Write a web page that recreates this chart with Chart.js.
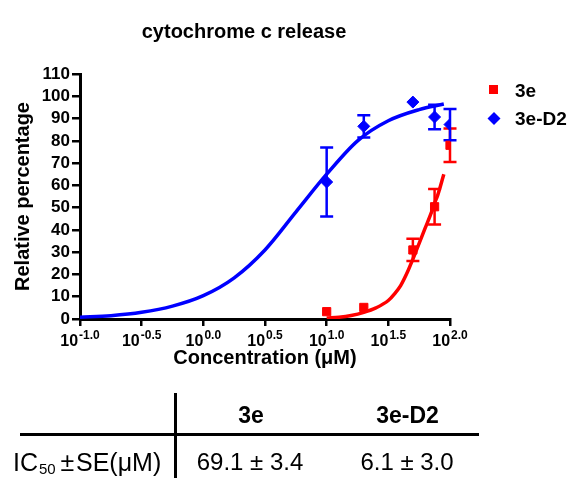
<!DOCTYPE html>
<html>
<head>
<meta charset="utf-8">
<script src="https://cdn.jsdelivr.net/npm/chart.js@4.4.0/dist/chart.umd.min.js"></script>
<style>
  html, body { margin: 0; padding: 0; background: #fff; }
</style>
</head>
<body>
<canvas id="myChart" width="585" height="486"></canvas>
<script>
// measured points (mean and SE) at each concentration, uM
const concentrations = [10, 20, 50, 75, 100];
const values3e = [3.3, 5.2, 31, 50.4, 78];
const errors3e = [0, 0, 5, 8, 7.5];
const valuesD2 = [61.5, 86.5, 97.4, 90.7, 87.3];
const errorsD2 = [15.5, 5, 0, 5.5, 7];

// fitted curves
const fitConcD2 = [0.1, 0.178, 0.316, 0.562, 1, 1.78, 3.16, 5.62, 10, 17.8, 31.6, 56.2, 89.1];
const fitD2 = [0.8, 1.5, 3, 5.8, 10.5, 18.5, 31, 48, 65, 80, 89, 94, 96.5];
const fitConc3e = [10, 12.6, 15.8, 20, 25.1, 31.6, 35.5, 39.8, 44.7, 50.1, 56.2, 63.1, 70.8, 75, 79.4, 89.1];
const fit3e = [0.4, 0.8, 1.6, 3.0, 5.0, 8.3, 11.3, 15, 20.5, 27, 34, 41, 48, 52, 55.5, 65];

const xTickValues = [0.1, 0.3162, 1, 3.162, 10, 31.62, 100];
const xTickExponents = ['-1.0', '-0.5', '0.0', '0.5', '1.0', '1.5', '2.0'];
const seriesNames = ['3e', '3e-D2'];
const seriesColors = ['#ff0000', '#0000ff'];
const tableValues = ['69.1 \u00b1 3.4', '6.1 \u00b1 3.0'];

const FONT = '"Liberation Sans", Arial, sans-serif';

function pts(xs, ys) {
  return xs.map((x, i) => ({ x: x, y: ys[i] }));
}

const extras = {
  id: 'extras',
  beforeDatasetsDraw(chart) {
    const ctx = chart.ctx, xs = chart.scales.x, ys = chart.scales.y;
    const sets = [[values3e, errors3e, seriesColors[0]], [valuesD2, errorsD2, seriesColors[1]]];
    sets.forEach(([vals, errs, col]) => {
      ctx.save();
      ctx.strokeStyle = col;
      ctx.lineWidth = 2.5;
      vals.forEach((v, i) => {
        if (!errs[i]) return;
        const x = xs.getPixelForValue(concentrations[i]);
        const y1 = ys.getPixelForValue(v + errs[i]);
        const y2 = ys.getPixelForValue(v - errs[i]);
        ctx.beginPath();
        ctx.moveTo(x, y1); ctx.lineTo(x, y2);
        ctx.moveTo(x - 6.5, y1); ctx.lineTo(x + 6.5, y1);
        ctx.moveTo(x - 6.5, y2); ctx.lineTo(x + 6.5, y2);
        ctx.stroke();
      });
      ctx.restore();
    });
  },
  afterDraw(chart) {
    const ctx = chart.ctx, xs = chart.scales.x;
    ctx.save();
    ctx.fillStyle = '#000';
    ctx.textBaseline = 'alphabetic';

    // title
    ctx.font = 'bold 20px ' + FONT;
    ctx.textAlign = 'center';
    ctx.fillText('cytochrome c release', 244, 38);

    // x tick labels: 10 with exponent
    ctx.textAlign = 'left';
    xTickValues.forEach((v, i) => {
      const x = xs.getPixelForValue(v);
      ctx.font = 'bold 16px ' + FONT;
      const w1 = ctx.measureText('10').width;
      ctx.font = 'bold 12px ' + FONT;
      const w2 = ctx.measureText(xTickExponents[i]).width;
      const left = x - (w1 + w2 + 1) / 2;
      ctx.font = 'bold 16px ' + FONT;
      ctx.fillText('10', left, 346);
      ctx.font = 'bold 12px ' + FONT;
      ctx.fillText(xTickExponents[i], left + w1 + 1, 339);
    });

    // legend
    ctx.fillStyle = seriesColors[0];
    ctx.fillRect(489, 85, 9, 9);
    ctx.fillStyle = seriesColors[1];
    ctx.beginPath();
    ctx.moveTo(494, 112); ctx.lineTo(500.5, 118.5); ctx.lineTo(494, 125); ctx.lineTo(487.5, 118.5);
    ctx.closePath();
    ctx.fill();
    ctx.fillStyle = '#000';
    ctx.font = 'bold 19px ' + FONT;
    ctx.fillText(seriesNames[0], 515, 96.5);
    ctx.fillText(seriesNames[1], 515, 125);

    // IC50 table
    ctx.strokeStyle = '#000';
    ctx.lineWidth = 3;
    ctx.beginPath();
    ctx.moveTo(20, 434.5); ctx.lineTo(479, 434.5);
    ctx.moveTo(175.5, 393); ctx.lineTo(175.5, 478);
    ctx.stroke();

    ctx.textAlign = 'center';
    ctx.font = 'bold 23px ' + FONT;
    ctx.fillText(seriesNames[0], 251, 423);
    ctx.fillText(seriesNames[1], 407.5, 423);
    ctx.font = '24px ' + FONT;
    ctx.fillText(tableValues[0], 250, 470);
    ctx.fillText(tableValues[1], 407, 470);

    ctx.textAlign = 'left';
    ctx.font = '25px ' + FONT;
    ctx.fillText('IC', 13, 471);
    ctx.font = '15px ' + FONT;
    ctx.fillText('50', 39, 474);
    ctx.font = '25px ' + FONT;
    ctx.fillText('\u00b1', 60.5, 471);
    ctx.fillText('SE(\u03bcM)', 76, 471);
    ctx.restore();
  }
};

new Chart('myChart', {
  data: {
    datasets: [
      {
        type: 'line', label: '3e fit', data: pts(fitConc3e, fit3e),
        borderColor: seriesColors[0], borderWidth: 3.5, pointRadius: 0,
        cubicInterpolationMode: 'monotone', fill: false, order: 3
      },
      {
        type: 'line', label: '3e-D2 fit', data: pts(fitConcD2, fitD2),
        borderColor: seriesColors[1], borderWidth: 3.5, pointRadius: 0,
        cubicInterpolationMode: 'monotone', fill: false, order: 2
      },
      {
        type: 'scatter', label: seriesNames[0], data: pts(concentrations, values3e),
        pointStyle: 'rect', pointRadius: 5.8, pointBorderWidth: 1,
        backgroundColor: seriesColors[0], borderColor: seriesColors[0], order: 1
      },
      {
        type: 'scatter', label: seriesNames[1], data: pts(concentrations, valuesD2),
        pointStyle: 'rectRot', pointRadius: 6, pointBorderWidth: 1,
        backgroundColor: seriesColors[1], borderColor: seriesColors[1], order: 0
      }
    ]
  },
  options: {
    responsive: false,
    animation: false,
    devicePixelRatio: 1,
    layout: { padding: { top: 74, right: 135, bottom: 106, left: 0 } },
    plugins: {
      legend: { display: false },
      title: { display: false },
      tooltip: { enabled: false }
    },
    scales: {
      x: {
        type: 'logarithmic',
        min: 0.1,
        max: 100,
        afterBuildTicks: (s) => { s.ticks = xTickValues.map(v => ({ value: v })); },
        afterFit: (s) => { s.height = 61; },
        ticks: { display: false },
        grid: { display: true, drawOnChartArea: false, drawTicks: true, tickLength: 7, color: '#000', lineWidth: 2.5 },
        border: { display: true, color: '#000', width: 3 },
        title: {
          display: true, text: 'Concentration (\u03bcM)', color: '#000',
          font: { family: FONT, size: 20, weight: 'bold' }, padding: { top: 0, bottom: 10 }
        }
      },
      y: {
        min: 0,
        max: 110,
        afterFit: (s) => { s.width = 80; },
        ticks: {
          stepSize: 10, autoSkip: false, color: '#000', padding: 2,
          font: { family: FONT, size: 17, weight: 'bold', lineHeight: 1 }
        },
        grid: { display: true, drawOnChartArea: false, drawTicks: true, tickLength: 8, color: '#000', lineWidth: 2.5 },
        border: { display: true, color: '#000', width: 3 },
        title: {
          display: true, text: 'Relative percentage', color: '#000',
          font: { family: FONT, size: 20, weight: 'bold' }, padding: { top: 11, bottom: 0 }
        }
      }
    }
  },
  plugins: [extras]
});
</script>
</body>
</html>
